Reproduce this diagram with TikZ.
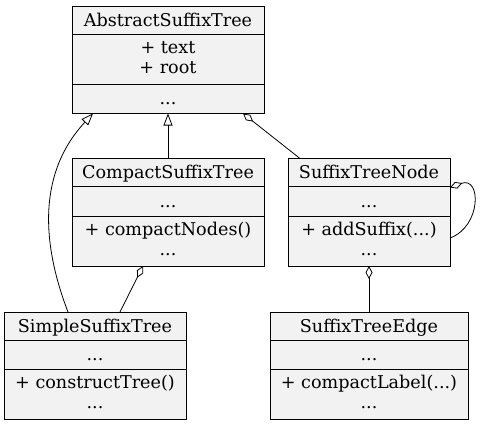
\documentclass[tikz,border=0pt]{standalone}
\usepackage{fontspec}
\setmainfont{DejaVu Serif}
\usetikzlibrary{positioning,arrows.meta}
\definecolor{boxgray}{RGB}{242,242,242}

\begin{document}
\begin{tikzpicture}[
    x=1pt, y=1pt,
    font=\fontsize{17.6}{20}\selectfont,
    part/.style={rectangle, draw, fill=boxgray, line width=0.8pt, inner sep=0pt, outer sep=0pt, align=center, text height=15pt, text depth=3pt},
    head/.style={part, minimum height=28pt},
    one/.style={part, minimum height=29.5pt},
    two/.style={part, minimum height=50pt, text height=33pt, text depth=5pt},
    inherit/.style={-{Triangle[open, length=12pt, width=9pt]}, line width=0.8pt},
    aggr/.style={-{Diamond[open, length=13pt, width=7pt]}, line width=0.8pt}
]
    \useasboundingbox (0,0) rectangle (480,-426);

    % AbstractSuffixTree
    \node[head, minimum width=192pt, anchor=north] (ast) at (168,-6) {AbstractSuffixTree};
    \node[two, minimum width=192pt, below=0pt of ast] (asta) {+ text\\+ root};
    \node[one, minimum width=192pt, below=0pt of asta] (astm) {...};

    % CompactSuffixTree
    \node[head, minimum width=192pt, below=45pt of astm] (cst) {CompactSuffixTree};
    \node[one, minimum width=192pt, below=0pt of cst] (csta) {...};
    \node[two, minimum width=192pt, below=0pt of csta] (cstm) {+ compactNodes()\\...};

    % SuffixTreeNode
    \node[head, minimum width=162pt, right=24pt of cst] (stn) {SuffixTreeNode};
    \node[one, minimum width=162pt, below=0pt of stn] (stna) {...};
    \node[two, minimum width=162pt, below=0pt of stna] (stnm) {+ addSuffix(...)\\...};

    % SimpleSuffixTree
    \node[head, minimum width=182pt, below=46pt of cstm, xshift=-73pt] (sst) {SimpleSuffixTree};
    \node[one, minimum width=182pt, below=0pt of sst] (ssta) {...};
    \node[two, minimum width=182pt, below=0pt of ssta] (sstm) {+ constructTree()\\...};

    % SuffixTreeEdge
    \node[head, minimum width=198pt, below=46pt of stnm] (ste) {SuffixTreeEdge};
    \node[one, minimum width=198pt, below=0pt of ste] (stea) {...};
    \node[two, minimum width=198pt, below=0pt of stea] (stem) {+ compactLabel(...)\\...};

    \draw[inherit] (cst) -- (astm);
    \draw[inherit] ([xshift=-27pt]sst.north) to[out=111, in=-133] ([xshift=-75pt]astm.south);
    \draw[aggr] ([xshift=-69pt]stn.north) -- ([xshift=75pt]astm.south);
    \draw[aggr] ([xshift=25pt]sst.north) -- ([xshift=-25pt]cstm.south);
    \draw[aggr] (ste) -- (stnm);
    \draw[aggr] ([yshift=3pt]stnm.east) to[out=20, in=20, looseness=1.7] ([yshift=-1pt]stna.north east);
\end{tikzpicture}
\end{document}
